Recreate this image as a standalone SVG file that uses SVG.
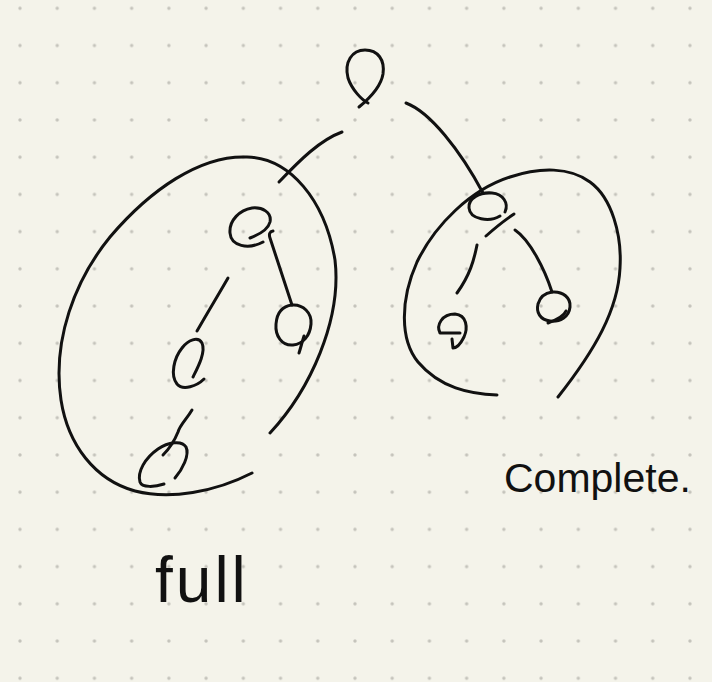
<svg xmlns="http://www.w3.org/2000/svg" width="712" height="682" viewBox="0 0 712 682">
  <defs>
    <pattern id="dots" patternUnits="userSpaceOnUse" x="1.39" y="-10.31" width="37.22" height="37.22">
      <circle cx="18.61" cy="18.61" r="1.7" fill="#c4c3bb"/>
    </pattern>
    <style>
      .ink { fill: none; stroke: #111; stroke-width: 3; stroke-linecap: round; stroke-linejoin: round; }
      .hand { font-family: "Liberation Sans", "DejaVu Sans", sans-serif; fill: #111; }
    </style>
  </defs>
  <rect width="712" height="682" fill="#f4f3ea"/>
  <rect width="712" height="682" fill="url(#dots)"/>

  <g id="full-boundary">
    <path class="ink" d="M 252 473 C 215 492, 170 500, 135 491 C 95 480, 68 445, 61 400 C 52 340, 75 280, 110 237 C 150 190, 200 155, 247 157 C 290 158, 325 200, 335 260 C 342 320, 310 390, 270 433"/>
  </g>
  <g id="complete-boundary">
    <path class="ink" d="M 497 395 C 470 394, 440 388, 418 362 C 400 340, 400 300, 417 262 C 435 225, 470 190, 510 177 C 540 167, 570 167, 590 182 C 612 198, 622 235, 620 268 C 618 310, 595 350, 558 397"/>
  </g>

  <g id="connectors">
    <path class="ink" d="M 342 132 C 320 140, 300 160, 279 182"/>
    <path class="ink" d="M 406 103 C 430 112, 460 150, 483 193"/>
    <path class="ink" d="M 273 231 Q 268 232 270 238 L 292 305"/>
    <path class="ink" d="M 228 278 C 220 292, 212 305, 197 331"/>
    <path class="ink" d="M 192 410 C 186 420, 180 425, 178 432 C 174 442, 168 450, 163 455"/>
    <path class="ink" d="M 477 245 C 474 260, 470 275, 457 293"/>
    <path class="ink" d="M 515 230 C 530 240, 545 270, 552 292"/>
  </g>

  <g id="node-root">
    <path class="ink" d="M 368 103 C 362 100, 352 90, 348 78 C 344 62, 352 50, 365 50 C 378 50, 385 60, 383 74 C 381 86, 370 98, 359 107"/>
  </g>
  <g id="node-full-1">
    <path class="ink" d="M 250 238 C 258 235, 268 230, 270 222 C 272 212, 262 207, 252 208 C 240 210, 229 220, 230 233 C 231 246, 248 250, 263 242"/>
  </g>
  <g id="node-full-2">
    <path class="ink" d="M 292 305 C 303 304, 312 313, 311 324 C 310 336, 303 344, 293 345 C 282 346, 275 336, 276 324 C 277 312, 283 306, 292 305"/>
    <path class="ink" d="M 304 336 C 302 342, 301 347, 299 353"/>
  </g>
  <g id="node-full-3">
    <path class="ink" d="M 193 377 C 198 367, 206 352, 202 343 C 198 336, 188 340, 182 348 C 174 358, 170 375, 177 384 C 183 391, 197 386, 204 379"/>
  </g>
  <g id="node-full-4">
    <path class="ink" d="M 175 478 C 182 470, 190 455, 186 447 C 182 440, 168 442, 158 449 C 145 458, 137 472, 140 482 C 142 488, 155 487, 164 484"/>
  </g>
  <g id="node-complete-1">
    <path class="ink" d="M 500 216 C 490 222, 470 220, 469 208 C 468 198, 480 192, 492 193 C 503 194, 509 203, 505 212"/>
    <path class="ink" d="M 486 236 C 495 228, 505 220, 514 214"/>
  </g>
  <g id="node-complete-2">
    <path class="ink" d="M 460 333 L 440 333 C 436 325, 442 314, 455 314 C 467 315, 468 328, 464 337 C 461 343, 457 348, 453 348 L 452 339"/>
  </g>
  <g id="node-complete-3">
    <path class="ink" d="M 552 292 C 563 291, 571 298, 570 307 C 569 317, 560 322, 550 321 C 540 320, 536 312, 538 304 C 540 297, 545 293, 552 292"/>
    <path class="ink" d="M 566 311 C 564 316, 556 320, 548 323"/>
  </g>

  <g id="labels">
    <text class="hand" x="504" y="492" font-size="41">Complete.</text>
    <text class="hand" x="155" y="602" font-size="64" letter-spacing="3">full</text>
  </g>
</svg>
